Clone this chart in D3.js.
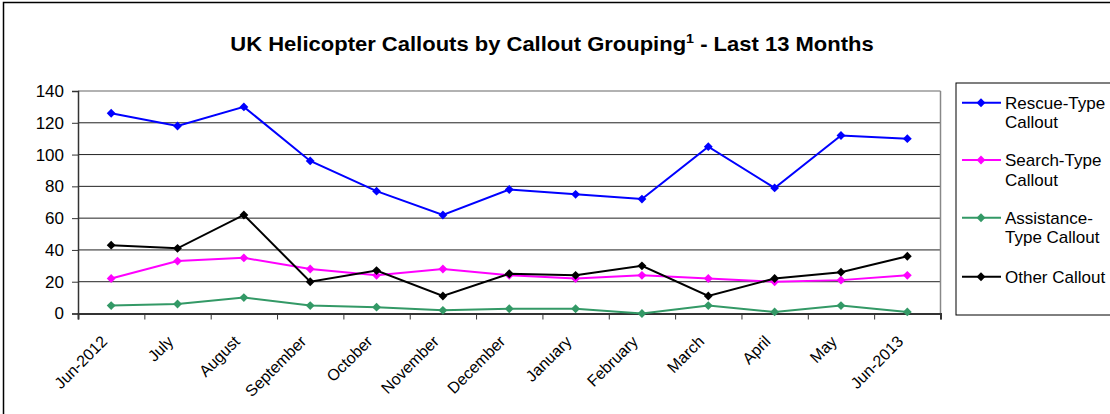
<!DOCTYPE html>
<html>
<head>
<meta charset="utf-8">
<script src="https://cdn.jsdelivr.net/npm/d3@7"></script>
<style>
  body { margin: 0; background: #fff; }
  text { font-family: "Liberation Sans", Arial, sans-serif; fill: #000; }
</style>
</head>
<body>
<div id="chart"></div>
<script>
// chart data
const months = ["Jun-2012", "July", "August", "September", "October", "November",
  "December", "January", "February", "March", "April", "May", "Jun-2013"];
const rescue = [126, 118, 130, 96, 77, 62, 78, 75, 72, 105, 79, 112, 110];
const search = [22, 33, 35, 28, 24, 28, 24, 22, 24, 22, 20, 21, 24];
const assistance = [5, 6, 10, 5, 4, 2, 3, 3, 0, 5, 1, 5, 1];
const other = [43, 41, 62, 20, 27, 11, 25, 24, 30, 11, 22, 26, 36];
const yTicks = [0, 20, 40, 60, 80, 100, 120, 140];
const seriesNames = [["Rescue-Type", "Callout"], ["Search-Type", "Callout"],
  ["Assistance-", "Type Callout"], ["Other Callout"]];

const colors = ["#0000ff", "#ff00ff", "#339966", "#000000"];
const allSeries = [rescue, search, assistance, other];

const width = 1110;
const height = 414;
const plot = {left: 78, right: 940.5, top: 91, bottom: 313.5};

const svg = d3.select("#chart")
  .append("svg")
  .attr("width", width)
  .attr("height", height);

// outer chart frame (runs off the picture on right and bottom)
svg.append("rect")
  .attr("x", 3.5).attr("y", 2.5)
  .attr("width", 1130).attr("height", 430)
  .attr("fill", "none")
  .attr("stroke", "#000")
  .attr("stroke-width", 1.5);

// title (the original is a bit stretched sideways)
const title = svg.append("text")
  .attr("transform", "translate(552,51) scale(1.1,1)")
  .attr("text-anchor", "middle")
  .attr("font-weight", "bold")
  .attr("font-size", "20px");
title.append("tspan").text("UK Helicopter Callouts by Callout Grouping");
title.append("tspan").attr("font-size", "13px").attr("dy", -8).text("1");
title.append("tspan").attr("dy", 8).text(" - Last 13 Months");

// scales
const x = d3.scaleBand()
  .domain(months)
  .range([plot.left, plot.right])
  .padding(0);
const xEdge = d3.scaleLinear()
  .domain([0, months.length])
  .range([plot.left, plot.right]);
const y = d3.scaleLinear()
  .domain([0, 140])
  .range([plot.bottom, plot.top]);

// gridlines
svg.append("g")
  .selectAll("line")
  .data(yTicks.filter(d => d > 0))
  .enter()
  .append("line")
  .attr("x1", plot.left).attr("x2", plot.right)
  .attr("y1", d => y(d)).attr("y2", d => y(d))
  .attr("stroke", d => d === 140 ? "#999" : "#222")
  .attr("stroke-width", d => d === 140 ? 1.5 : 1);

// plot area right border
svg.append("line")
  .attr("x1", plot.right).attr("x2", plot.right)
  .attr("y1", plot.top).attr("y2", plot.bottom)
  .attr("stroke", "#888").attr("stroke-width", 1.5);

// y axis
const yAxis = svg.append("g")
  .attr("transform", `translate(${plot.left},0)`)
  .call(d3.axisLeft(y).tickValues(yTicks).tickSize(6).tickPadding(8));
yAxis.select(".domain").attr("stroke", "#333").attr("stroke-width", 1.5);
yAxis.selectAll(".tick line").attr("stroke", "#333");
yAxis.selectAll("text")
  .attr("font-size", "17px")
  .attr("font-family", "Liberation Sans, Arial, sans-serif")
  .attr("fill", "#000");

// x axis: tick marks at category edges
const xAxis = svg.append("g")
  .attr("transform", `translate(0,${plot.bottom})`)
  .call(d3.axisBottom(xEdge).tickValues(d3.range(months.length + 1))
    .tickSize(6).tickFormat(""));
xAxis.select(".domain").attr("stroke", "#333").attr("stroke-width", 2);
xAxis.selectAll(".tick line").attr("stroke", "#333");

// rotated month labels
svg.append("g")
  .selectAll("text")
  .data(months)
  .enter()
  .append("text")
  .attr("text-anchor", "end")
  .attr("font-size", "16px")
  .attr("transform", d => `translate(${x(d) + x.bandwidth() / 2 - 3},${plot.bottom + 29}) rotate(-45)`)
  .text(d => d);

// lines + diamond markers
const line = d3.line()
  .x((d, i) => x(months[i]) + x.bandwidth() / 2)
  .y(d => y(d));
const diamond = d3.symbol().type(d3.symbolDiamond2).size(50);

allSeries.forEach(function(s, k) {
  svg.append("path")
    .datum(s)
    .attr("d", line)
    .attr("fill", "none")
    .attr("stroke", colors[k])
    .attr("stroke-width", 2);
  svg.append("g")
    .selectAll("path")
    .data(s)
    .enter()
    .append("path")
    .attr("d", diamond)
    .attr("transform", (d, i) => `translate(${x(months[i]) + x.bandwidth() / 2},${y(d)})`)
    .attr("fill", colors[k]);
});

// legend
const legend = svg.append("g");
legend.append("rect")
  .attr("x", 956).attr("y", 83)
  .attr("width", 200).attr("height", 232)
  .attr("fill", "#fff")
  .attr("stroke", "#000").attr("stroke-width", 1);

const legendY = [102.7, 160, 217.7, 276.7];
seriesNames.forEach(function(name, k) {
  const g = legend.append("g").attr("transform", `translate(0,${legendY[k]})`);
  g.append("line")
    .attr("x1", 962).attr("x2", 1001)
    .attr("stroke", colors[k]).attr("stroke-width", 2);
  g.append("path")
    .attr("d", diamond)
    .attr("transform", "translate(981,0)")
    .attr("fill", colors[k]);
  const t = g.append("text")
    .attr("x", 1005).attr("y", 6)
    .attr("font-size", "17px");
  name.forEach(function(part, j) {
    t.append("tspan").attr("x", 1005).attr("dy", j === 0 ? 0 : 19.5).text(part);
  });
});
</script>
</body>
</html>
